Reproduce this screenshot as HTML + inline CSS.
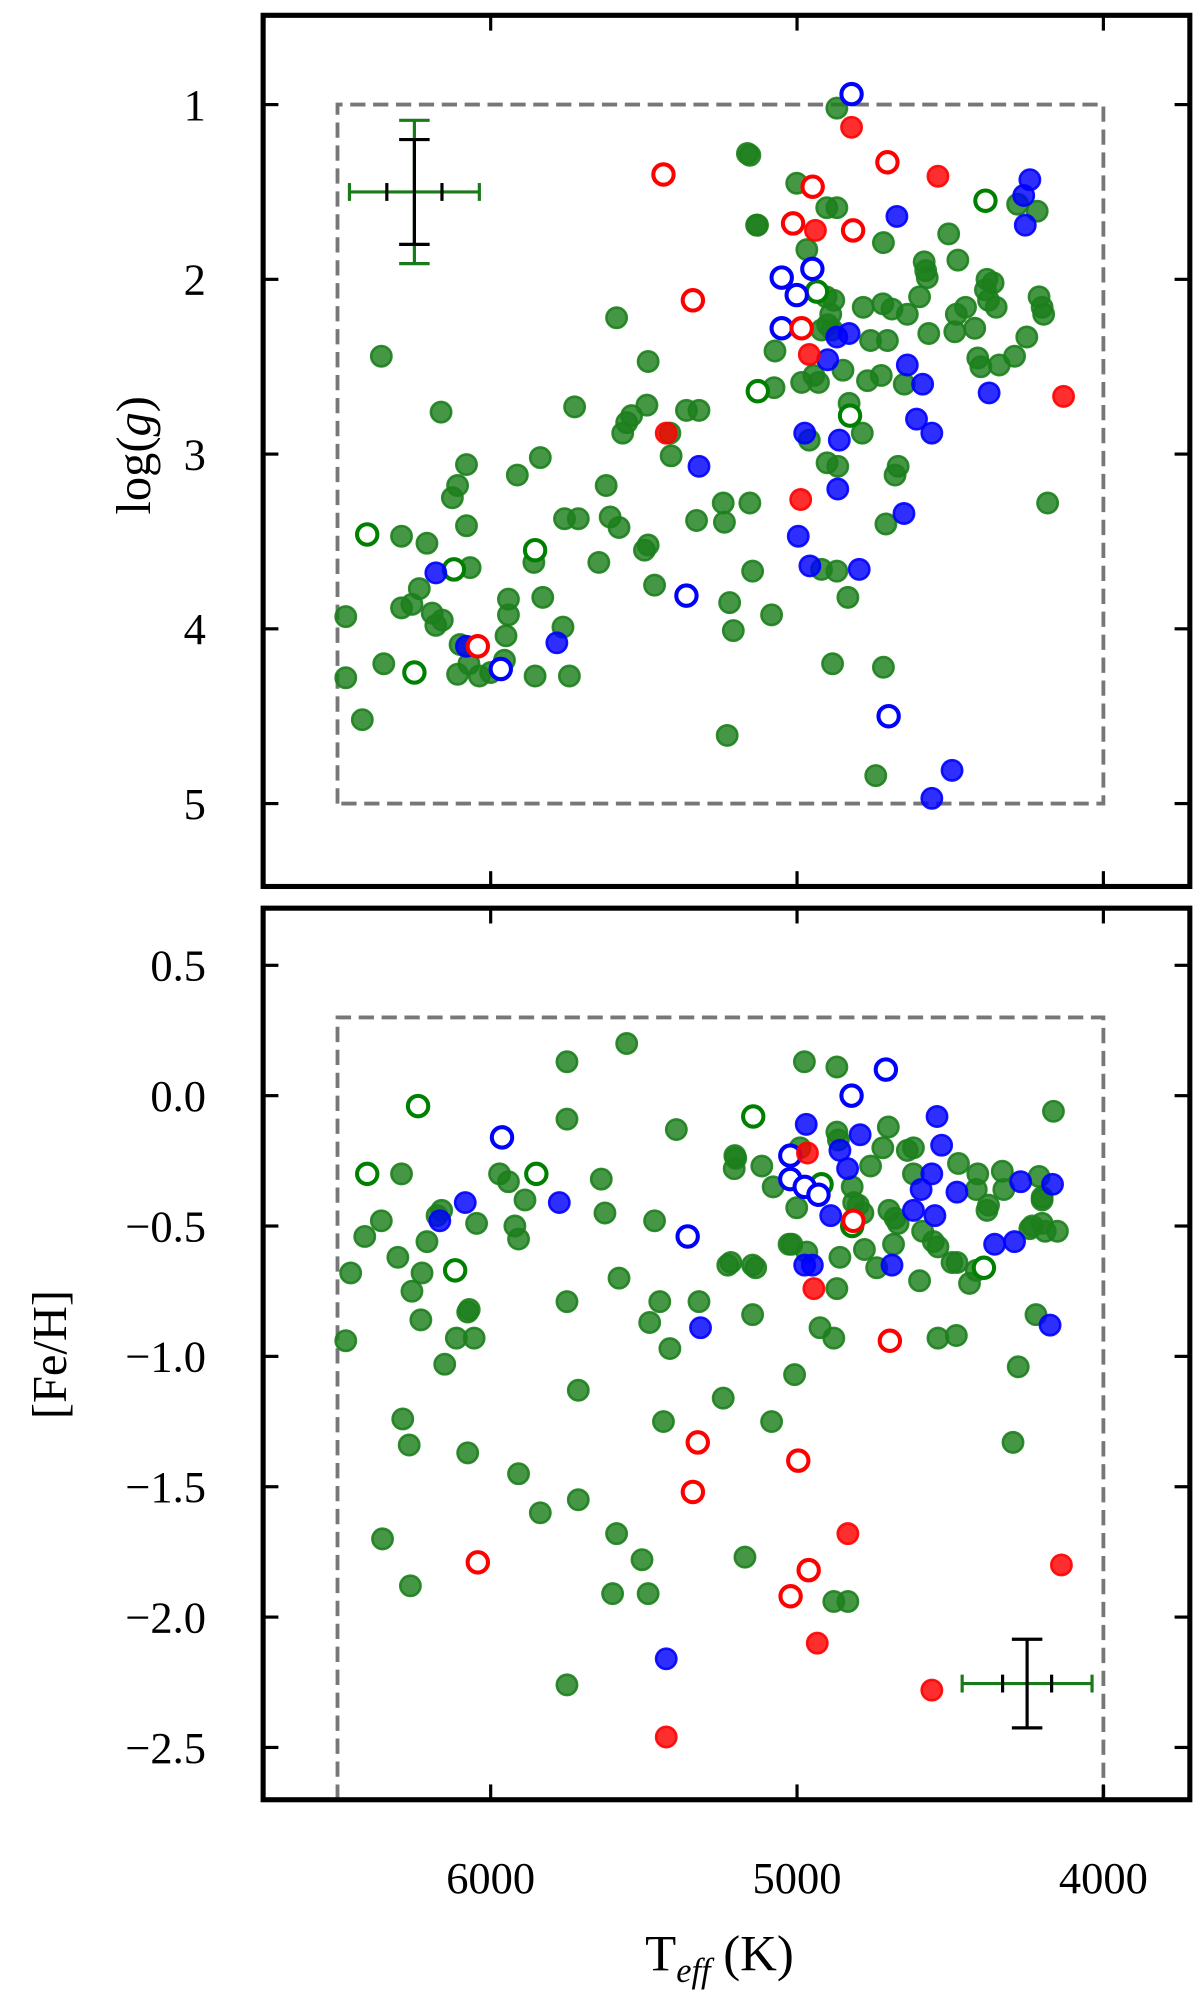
<!DOCTYPE html>
<html><head><meta charset="utf-8"><style>
html,body{margin:0;padding:0;background:#fff;}
svg{display:block;}
text{font-family:"Liberation Serif",serif;fill:#000;}
</style></head><body>
<svg id="fig" width="1200" height="2000" viewBox="0 0 944 1568" preserveAspectRatio="none" xmlns="http://www.w3.org/2000/svg">
<rect x="0" y="0" width="944" height="1568" fill="#fff"/>
<g id="top-panel"></g>
<g id="bot-panel"></g>
<text x="566" y="1545" font-size="40" text-anchor="middle">T<tspan font-size="27" font-style="italic" dy="9">eff</tspan><tspan dy="-9"> (K)</tspan></text>
<text x="0" y="0" font-size="38" text-anchor="middle" transform="translate(118,357) rotate(-90)">log(<tspan font-style="italic">g</tspan>)</text>
<text x="0" y="0" font-size="38" text-anchor="middle" transform="translate(52,1062) rotate(-90)">[Fe/H]</text>
</svg>
<script>
// ---- Top panel data: Teff (K) and log(g)
const gfT=[6357,6473,6419,6473,6349,6291,6257,6233,6291,6208,6162,6179,6191,6158,6108,6125,6108,6079,6079,6067,6100,6000,6037,5955,5942,5942,5950,5913,5838,5859,5830,5855,5764,5743,5759,5726,5714,5589,5486,5556,5540,5569,5490,5623,5610,5581,5647,5498,5486,5465,5415,5411,5320,5361,5328,5241,5237,5220,5208,5228,5154,5145,5083,5162,5129,5075,6071,
4870,5154,5001,4903,4870,5132,4216,4280,4968,4718,4505,4585,4580,4575,4475,4380,4360,4385,4375,4350,4210,4195,4200,4905,4880,4890,4900,4920,4885,4784,4720,4690,4640,4600,4570,4760,4705,4480,4450,4420,4485,4250,4290,4340,4410,4400,5072,4850,4770,4725,4985,4930,4945,4650,4830,4787,4960,4902,4670,
4870,4920,4834,4884,4718,4680,4710,4743,4182,4867];
const gfG=[2.44,4.28,4.52,3.93,4.20,3.88,3.86,3.77,3.47,3.51,2.76,3.98,3.91,3.95,4.26,3.25,3.18,3.06,3.41,3.65,4.09,4.25,4.27,4.18,3.83,3.92,4.04,3.12,3.02,3.62,3.82,4.27,3.99,4.27,3.37,2.73,3.37,2.22,2.47,2.82,2.78,2.88,2.72,3.18,3.36,3.42,3.62,3.55,3.52,3.75,2.88,3.01,2.75,2.75,3.38,3.28,3.39,3.85,4.01,4.61,3.28,3.67,3.92,1.28,1.69,2.62,4.20,
1.02,1.29,1.45,1.59,1.59,1.69,1.61,1.57,1.83,1.79,1.74,1.90,1.95,1.99,1.89,2.00,2.02,2.06,2.12,2.16,2.10,2.20,2.16,2.10,2.12,2.20,2.26,2.29,2.29,2.16,2.14,2.17,2.20,2.10,2.31,2.35,2.35,2.20,2.16,2.28,2.30,2.33,2.44,2.49,2.45,2.50,2.41,2.52,2.58,2.55,2.59,2.59,2.55,2.60,2.71,2.88,2.92,3.05,3.07,
3.67,3.66,3.82,4.20,4.22,3.12,3.40,4.84,3.28,3.07];
const goT=[4385,4935,5128,4827,6403,6120,5855,6249];
const goG=[1.55,2.07,2.64,2.78,3.46,3.66,3.55,4.25];
const bfT=[4674,4240,4260,4255,4870,4830,4900,4640,4590,4373,4610,4560,4975,4862,5320,6179,6079,5784,4996,4958,4867,4797,4651,4494,4560];
const bfG=[1.64,1.43,1.52,1.69,2.33,2.31,2.46,2.49,2.60,2.65,2.80,2.88,2.88,2.92,3.07,3.68,4.10,4.08,3.47,3.64,3.20,3.66,3.34,4.81,4.97];
const boT=[4822,5050,4950,5001,5050,5361,5967,4701];
const boG=[0.94,1.99,1.94,2.09,2.28,3.81,4.23,4.50];
const rfT=[4822,4540,4940,4960,4130,5427,4988];
const rfG=[1.13,1.41,1.72,2.43,2.67,2.88,3.26];
const roT=[4705,4949,5013,4817,4985,5436,5340,6042];
const roG=[1.33,1.47,1.68,1.72,2.28,1.40,2.12,4.10];
// ---- Bottom panel data: Teff (K) and [Fe/H]
const gfT2=[6473,6457,6411,6357,6291,6303,6353,6287,6266,6262,6257,6224,6228,6208,6175,6160,6150,6112,6075,6070,6054,6046,6075,5971,5942,5921,5909,5888,5909,5838,5751,5751,5751,5751,5714,5714,5639,5627,5556,5581,5602,5589,5506,5486,5465,5481,5448,5394,5415,5436,5320,5216,5241,5203,5170,5145,5145,5083,5008,5017,
4976,4870,4163,5200,5205,5115,4870,4865,4702,4620,4640,4720,4760,4620,4990,5078,5001,4820,4815,4785,4800,4700,4680,4670,4473,4410,4415,4330,4325,4375,4380,4210,4200,4200,4150,4240,4590,4555,4540,5026,4968,4860,4780,4685,4478,4437,5226,5135,4740,4870,4600,
4880,4834,4220,4295,4278,4540,4480,4925,4880,4494,4415,4232,4190,4200];
const gfF2=[-0.94,-0.68,-0.54,-0.48,-0.30,-0.62,-1.70,-1.24,-1.34,-1.88,-0.75,-0.68,-0.86,-0.56,-0.46,-0.44,-1.03,-0.93,-0.83,-0.82,-0.93,-0.49,-1.37,-0.30,-0.33,-0.50,-0.55,-0.40,-1.45,-1.60,0.13,-0.09,-0.79,-2.26,-1.13,-1.55,-0.32,-0.45,0.20,-0.70,-1.91,-1.68,-1.78,-1.91,-0.48,-0.87,-0.79,-0.13,-0.97,-1.25,-0.79,-0.64,-1.16,-0.23,-1.77,-0.65,-0.84,-1.25,-1.07,-0.57,
0.13,0.11,-0.06,-0.24,-0.28,-0.27,-0.14,-0.17,-0.12,-0.20,-0.21,-0.20,-0.27,-0.30,-0.20,-0.35,-0.43,-0.35,-0.41,-0.45,-0.42,-0.44,-0.47,-0.49,-0.26,-0.30,-0.36,-0.29,-0.36,-0.42,-0.44,-0.31,-0.39,-0.49,-0.52,-0.51,-0.52,-0.56,-0.58,-0.57,-0.60,-0.62,-0.59,-0.57,-0.64,-0.72,-0.65,-0.66,-0.66,-0.74,-0.71,
-1.94,-1.94,-0.84,-1.33,-1.04,-0.93,-0.92,-0.89,-0.93,-0.64,-0.67,-0.50,-0.52,-0.40];
const goT2=[5143,4920,4820,4390,6403,6237,6116,5851];
const goF2=[-0.08,-0.34,-0.50,-0.66,-0.30,-0.04,-0.67,-0.30];
const bfT2=[4970,4794,4543,4528,4860,4835,4560,4595,4478,4270,4620,4550,4890,4355,4290,4975,4950,4690,6166,6083,5776,5315,5427,4174,4166];
const bfF2=[-0.11,-0.15,-0.08,-0.19,-0.21,-0.28,-0.30,-0.36,-0.37,-0.33,-0.44,-0.46,-0.46,-0.57,-0.56,-0.65,-0.65,-0.65,-0.48,-0.41,-0.41,-0.89,-2.16,-0.88,-0.34];
const boT2=[4710,4822,5022,5022,4975,4930,5963,5357];
const boF2=[0.10,0.00,-0.23,-0.32,-0.35,-0.38,-0.16,-0.54];
const rfT2=[4966,4945,5427,4934,4834,4560,4137];
const rfF2=[-0.22,-0.74,-2.46,-2.10,-1.68,-2.28,-1.80];
const roT2=[4816,6042,5324,5340,4996,5021,4962,4697];
const roF2=[-0.48,-1.79,-1.33,-1.52,-1.40,-1.92,-1.82,-0.94];
// ticks
const xTicks=[6000,5000,4000];
const gTicks=[1,2,3,4,5];
const fTicks=[0.5,0.0,-0.5,-1.0,-1.5,-2.0,-2.5];
// error bars [Teff, val, black dT, black dY, green dT, green dY]
const errTop=[6249,1.5,90,0.30,212,0.41];
const errBot=[4249,-2.255,80,0.17,212,0];

const NS="http://www.w3.org/2000/svg";
const xs=t=>627+(5000-t)*0.241;
const ysTop=g=>82+(g-1)*137;
const ysBot=f=>859-f*204.4;
function mk(tag,attrs,parent){const e=document.createElementNS(NS,tag);for(const k in attrs)e.setAttribute(k,attrs[k]);parent.appendChild(e);return e;}

function panel(g,top,bot,ticksY,ysc,fmt,name){
  const L=207,R=936;
  xTicks.forEach(t=>{const x=xs(t);
    const a=mk('line',{x1:x,x2:x,y1:top,y2:top+12,stroke:'#000','stroke-width':2.5},g);
    
    
    const b=mk('line',{x1:x,x2:x,y1:bot,y2:bot-12,stroke:'#000','stroke-width':2.5},g);
    
    
  });
  ticksY.forEach(v=>{const y=ysc(v);
    const a=mk('line',{x1:L,x2:L+12,y1:y,y2:y,stroke:'#000','stroke-width':2.5},g);
    
    
    const b=mk('line',{x1:R,x2:R-12,y1:y,y2:y,stroke:'#000','stroke-width':2.5},g);
    
    
    const t=mk('text',{x:162,y:y+12,'font-size':35,'text-anchor':'end'},g);
    t.textContent=fmt(v);
    
    
  });
}
function dashBox(g,x1,x2,y1,y2,name){
  const p=mk('path',{d:`M${x1},${y2} L${x1},${y1} L${x2},${y1} L${x2},${y2}`+(name==='top'?` L${x1},${y2}`:''),fill:'none',stroke:'#777','stroke-width':3,'stroke-dasharray':'12,6'},g);
  
  
}
function series(g,T,V,ysc,color,filled,name){
  T.forEach((t,i)=>{
    const c=filled?mk('circle',{cx:xs(t),cy:ysc(V[i]),r:8,fill:color,'fill-opacity':0.82,stroke:color,'stroke-opacity':0.9,'stroke-width':2},g)
                  :mk('circle',{cx:xs(t),cy:ysc(V[i]),r:8,fill:'#fff',stroke:color,'stroke-width':3.2},g);
    
    
  });
}
function errbar(g,e,ysc,name){
  const x=xs(e[0]),y=ysc(e[1]);
  const gx1=xs(e[0]+e[4]),gx2=xs(e[0]-e[4]);
  const G='#1a7a1a';
  const parts=[];
  parts.push(mk('line',{x1:gx1,x2:gx2,y1:y,y2:y,stroke:G,'stroke-width':2.5},g));
  parts.push(mk('line',{x1:gx1,x2:gx1,y1:y-7,y2:y+7,stroke:G,'stroke-width':2.5},g));
  parts.push(mk('line',{x1:gx2,x2:gx2,y1:y-7,y2:y+7,stroke:G,'stroke-width':2.5},g));
  if(e[5]>0){const a=ysc(e[1]-e[5]),b=ysc(e[1]+e[5]);
    parts.push(mk('line',{x1:x,x2:x,y1:a,y2:b,stroke:G,'stroke-width':2.5},g));
    parts.push(mk('line',{x1:x-12,x2:x+12,y1:a,y2:a,stroke:G,'stroke-width':2.5},g));
    parts.push(mk('line',{x1:x-12,x2:x+12,y1:b,y2:b,stroke:G,'stroke-width':2.5},g));}
  const a=ysc(e[1]-e[3]),b=ysc(e[1]+e[3]);
  parts.push(mk('line',{x1:x,x2:x,y1:a,y2:b,stroke:'#000','stroke-width':2.5},g));
  parts.push(mk('line',{x1:x-12,x2:x+12,y1:a,y2:a,stroke:'#000','stroke-width':2.5},g));
  parts.push(mk('line',{x1:x-12,x2:x+12,y1:b,y2:b,stroke:'#000','stroke-width':2.5},g));
  const bx1=xs(e[0]+e[2]),bx2=xs(e[0]-e[2]);
  parts.push(mk('line',{x1:bx1,x2:bx1,y1:y-7,y2:y+7,stroke:'#000','stroke-width':2.5},g));
  parts.push(mk('line',{x1:bx2,x2:bx2,y1:y-7,y2:y+7,stroke:'#000','stroke-width':2.5},g));
  parts.forEach(p=>{
    
    
  });
}
const gt=document.getElementById('top-panel');
const gb=document.getElementById('bot-panel');
dashBox(gt,xs(6500),xs(4000),ysTop(1),ysTop(5),'top');
dashBox(gb,xs(6500),xs(4000),ysBot(0.3),1411,'bottom');
const GREEN='#1c7f1c',BLUE='#0000ff',RED='#ff0000';
series(gt,gfT,gfG,ysTop,GREEN,true,'giant-green-point');
series(gt,goT,goG,ysTop,'#008000',false,'green-open-point');
series(gt,bfT,bfG,ysTop,BLUE,true,'blue-point');
series(gt,boT,boG,ysTop,BLUE,false,'blue-open-point');
series(gt,rfT,rfG,ysTop,RED,true,'red-point');
series(gt,roT,roG,ysTop,RED,false,'red-open-point');
series(gb,gfT2,gfF2,ysBot,GREEN,true,'giant-green-point');
series(gb,goT2,goF2,ysBot,'#008000',false,'green-open-point');
series(gb,bfT2,bfF2,ysBot,BLUE,true,'blue-point');
series(gb,boT2,boF2,ysBot,BLUE,false,'blue-open-point');
series(gb,rfT2,rfF2,ysBot,RED,true,'red-point');
series(gb,roT2,roF2,ysBot,RED,false,'red-open-point');
errbar(gt,errTop,ysTop,'typical-error-bar-top');
errbar(gb,errBot,ysBot,'typical-error-bar-bottom');
panel(gt,12,695,gTicks,ysTop,v=>String(v),'top');
panel(gb,712,1411,fTicks,ysBot,v=>(v<0?'\u2212':'')+Math.abs(v).toFixed(1),'bottom');
const f1=mk('rect',{x:207,y:12,width:729,height:683,fill:'none',stroke:'#000','stroke-width':4},gt);


const f2=mk('rect',{x:207,y:712,width:729,height:699,fill:'none',stroke:'#000','stroke-width':4},gb);


xTicks.forEach(t=>{
  const tx=mk('text',{x:xs(t),y:1484,'font-size':35,'text-anchor':'middle'},gb);
  tx.textContent=String(t);
  
  
});
</script>
</body></html>
